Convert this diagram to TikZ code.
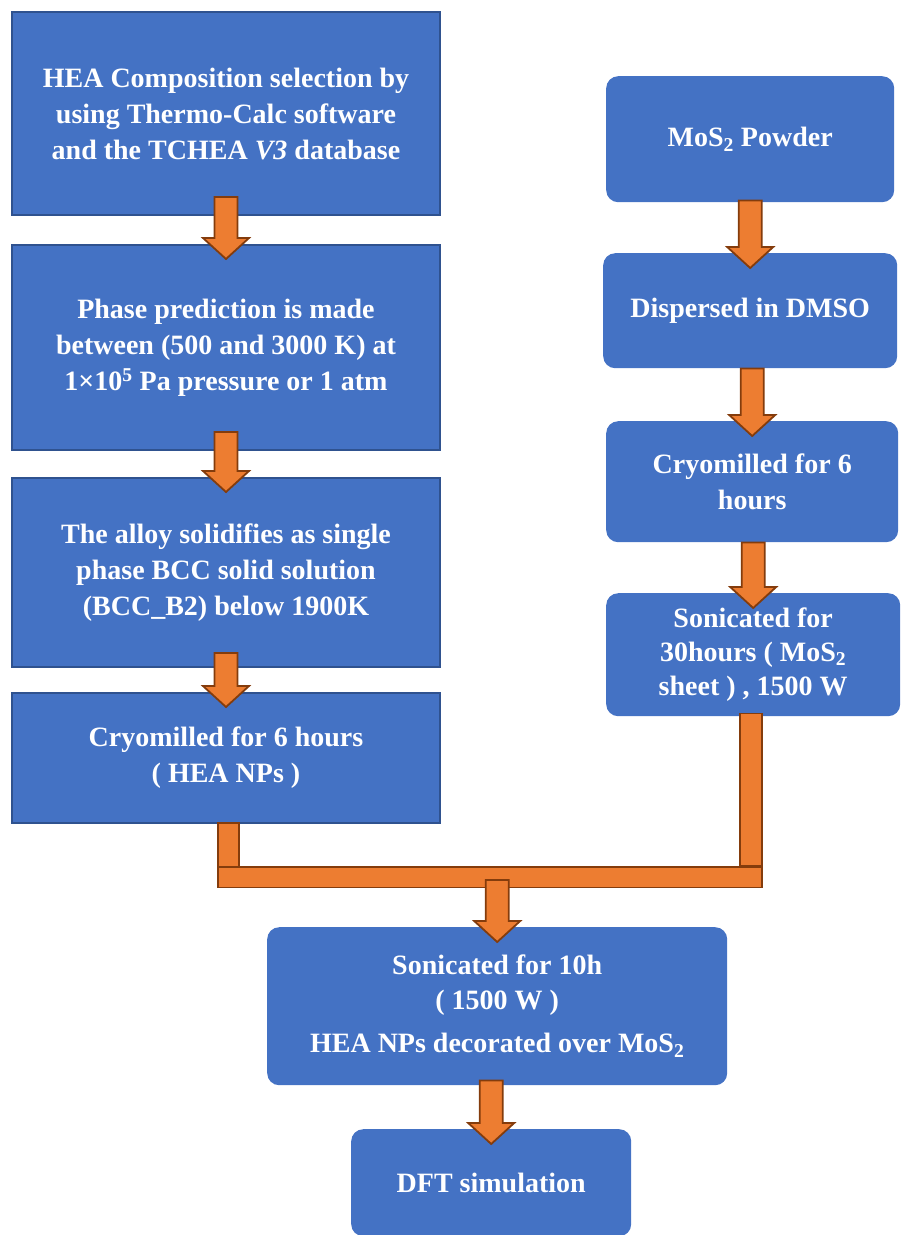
\documentclass[tikz,border=0pt]{standalone}
\usepackage{fontspec}
\setmainfont{Liberation Serif}
\usetikzlibrary{calc}
\definecolor{FlowBlue}{HTML}{4472C4}
\definecolor{FlowBlueDark}{HTML}{2F528F}
\definecolor{FlowOrange}{HTML}{ED7D31}
\definecolor{FlowBrown}{HTML}{843C0C}

% block arrow: [overlap into source]{source point}{target point}
\newcommand{\flowarrow}[3][0]{%
  \draw[ar] let \p1=(#2), \p2=(#3) in
    (\x2-11.5pt,\y1+#1pt) -- (\x2-11.5pt,\y2+6pt) -- (\x2-23pt,\y2+6pt) -- (\x2,\y2-15pt)
    -- (\x2+23pt,\y2+6pt) -- (\x2+11.5pt,\y2+6pt) -- (\x2+11.5pt,\y1+#1pt) -- cycle;}

\begin{document}
\begin{tikzpicture}[x=1pt,y=-1pt]
    \tikzset{t/.style={anchor=north west,inner sep=0pt,align=center,text=white,
      font=\fontsize{28}{36}\selectfont\bfseries},
      s/.style={t,fill=FlowBlue,draw=FlowBlueDark,line width=2pt},
      r/.style={t,fill=FlowBlue,rounded corners=12pt},
      ar/.style={fill=FlowOrange,draw=FlowBrown,line width=1.8pt,line join=miter}}
    \useasboundingbox (0,0) rectangle (901,1235);
    \node[s,minimum width=428pt,minimum height=203pt] (a) at (11,11) {HEA Composition selection by\\using Thermo-Calc software\\and the TCHEA \textit{V3} database};
    \node[s,minimum width=428pt,minimum height=205pt] (b) at (11,244) {Phase prediction is made\\between (500 and 3000 K) at\\1×10\textsuperscript{5} Pa pressure or 1 atm};
    \node[s,minimum width=428pt,minimum height=189pt] (c) at (11,477) {The alloy solidifies as single\\phase BCC solid solution\\(BCC\_B2) below 1900K};
    \node[s,minimum width=428pt,minimum height=130pt] (d) at (11,692) {Cryomilled for 6 hours\\( HEA NPs )};
    \node[r,minimum width=288pt,minimum height=126pt] (r1) at (606,76) {MoS\textsubscript{2} Powder};
    \node[r,minimum width=294pt,minimum height=115pt] (r2) at (603,253) {Dispersed in DMSO};
    \node[r,minimum width=292pt,minimum height=121pt] (r3) at (606,421) {Cryomilled for 6\\hours};
    \node[r,minimum width=294pt,minimum height=123pt,font=\fontsize{28}{34}\selectfont\bfseries] (r4) at (606,593) {Sonicated for\\30hours ( MoS\textsubscript{2}\\sheet ) , 1500 W};
    \node[r,minimum width=460pt,minimum height=158pt,font=\fontsize{28}{35}\selectfont\bfseries] (e) at (267,927) {Sonicated for 10h\\( 1500 W )\\[8pt]HEA NPs decorated over MoS\textsubscript{2}};
    \node[r,minimum width=280pt,minimum height=107pt] (f) at (351,1129) {DFT simulation};
    \flowarrow[19]{a.south}{b.north}
    \flowarrow[19]{b.south}{c.north}
    \flowarrow[15]{c.south}{d.north}
    \flowarrow[2]{r1.south}{r2.north}
    \flowarrow{r2.south}{r3.north}
    \flowarrow{r3.south}{r4.north}
    \draw[ar] ($(d.south)+(-8,-1)$) rectangle ($(d.south)+(13,43)$);
    \draw[ar] ($(r4.south)+(-13,-3)$) rectangle ($(r4.south)+(9,149)$);
    \draw[ar] ($(d.south)+(-8,43)$) rectangle ($(r4.south)+(9,171)$);
    \coordinate (m) at (492,887);
    \flowarrow[7]{m}{e.north}
    \flowarrow[5]{e.south}{f.north}
\end{tikzpicture}
\end{document}
